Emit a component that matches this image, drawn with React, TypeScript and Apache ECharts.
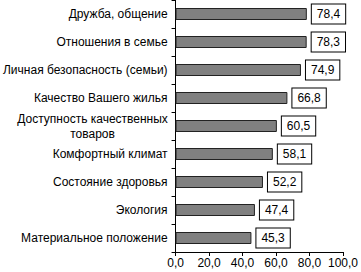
import React, { useEffect, useRef } from "react";
import * as echarts from "echarts";

const categories = [
  "Дружба, общение",
  "Отношения в семье",
  "Личная безопасность (семьи)",
  "Качество Вашего жилья",
  "Доступность качественных\nтоваров",
  "Комфортный климат",
  "Состояние здоровья",
  "Экология",
  "Материальное положение",
];
const values = [78.4, 78.3, 74.9, 66.8, 60.5, 58.1, 52.2, 47.4, 45.3];
const xTicks = [0, 20, 40, 60, 80, 100];

const fmt = (v: number) => v.toFixed(1).replace(".", ",");

export default function App() {
  const ref = useRef<HTMLDivElement>(null);
  useEffect(() => {
    if (!ref.current) return;
    const chart = echarts.init(ref.current, undefined, { renderer: "svg" });
    const font = "Liberation Sans, Arial, sans-serif";
    chart.setOption({
      animation: false,
      grid: { left: 171, right: 16, top: 0, bottom: 20, containLabel: false },
      xAxis: {
        type: "value",
        min: xTicks[0],
        max: xTicks[xTicks.length - 1],
        interval: 20,
        axisLine: { show: true, lineStyle: { color: "#000", width: 1 } },
        axisTick: { show: true, length: 4, lineStyle: { color: "#000" } },
        splitLine: { show: false },
        axisLabel: {
          color: "#000",
          fontFamily: font,
          fontSize: 12,
          margin: 5,
          formatter: (v: number) => fmt(v),
        },
      },
      yAxis: {
        type: "category",
        data: categories,
        inverse: true,
        axisLine: { show: true, lineStyle: { color: "#000", width: 1 } },
        axisTick: { show: true, length: 4, alignWithLabel: false, lineStyle: { color: "#000" } },
        axisLabel: {
          color: "#000",
          fontFamily: font,
          fontSize: 12,
          margin: 8,
          lineHeight: 15,
          formatter: (v: string) =>
            v.includes("\n")
              ? v
                  .split("\n")
                  .map((s) => `{c|${s}}`)
                  .join("\n")
              : v,
          rich: {
            c: {
              width: 150,
              align: "center",
              fontFamily: font,
              fontSize: 12,
              color: "#000",
              lineHeight: 15,
            },
          },
        },
      },
      series: [
        {
          type: "bar",
          data: values,
          barWidth: 12,
          itemStyle: { color: "#808080", borderColor: "#222", borderWidth: 1 },
          label: {
            show: true,
            position: "right",
            distance: 5,
            color: "#000",
            fontFamily: font,
            fontSize: 12,
            backgroundColor: "#fff",
            borderColor: "#000",
            borderWidth: 1,
            padding: [4, 5, 3, 5],
            formatter: (p: any) => fmt(p.value),
          },
        },
      ],
    });
    return () => chart.dispose();
  }, []);
  return (
    <div
      ref={ref}
      style={{ position: "absolute", left: 0, top: 0, width: 361, height: 272, background: "#fff" }}
    />
  );
}
